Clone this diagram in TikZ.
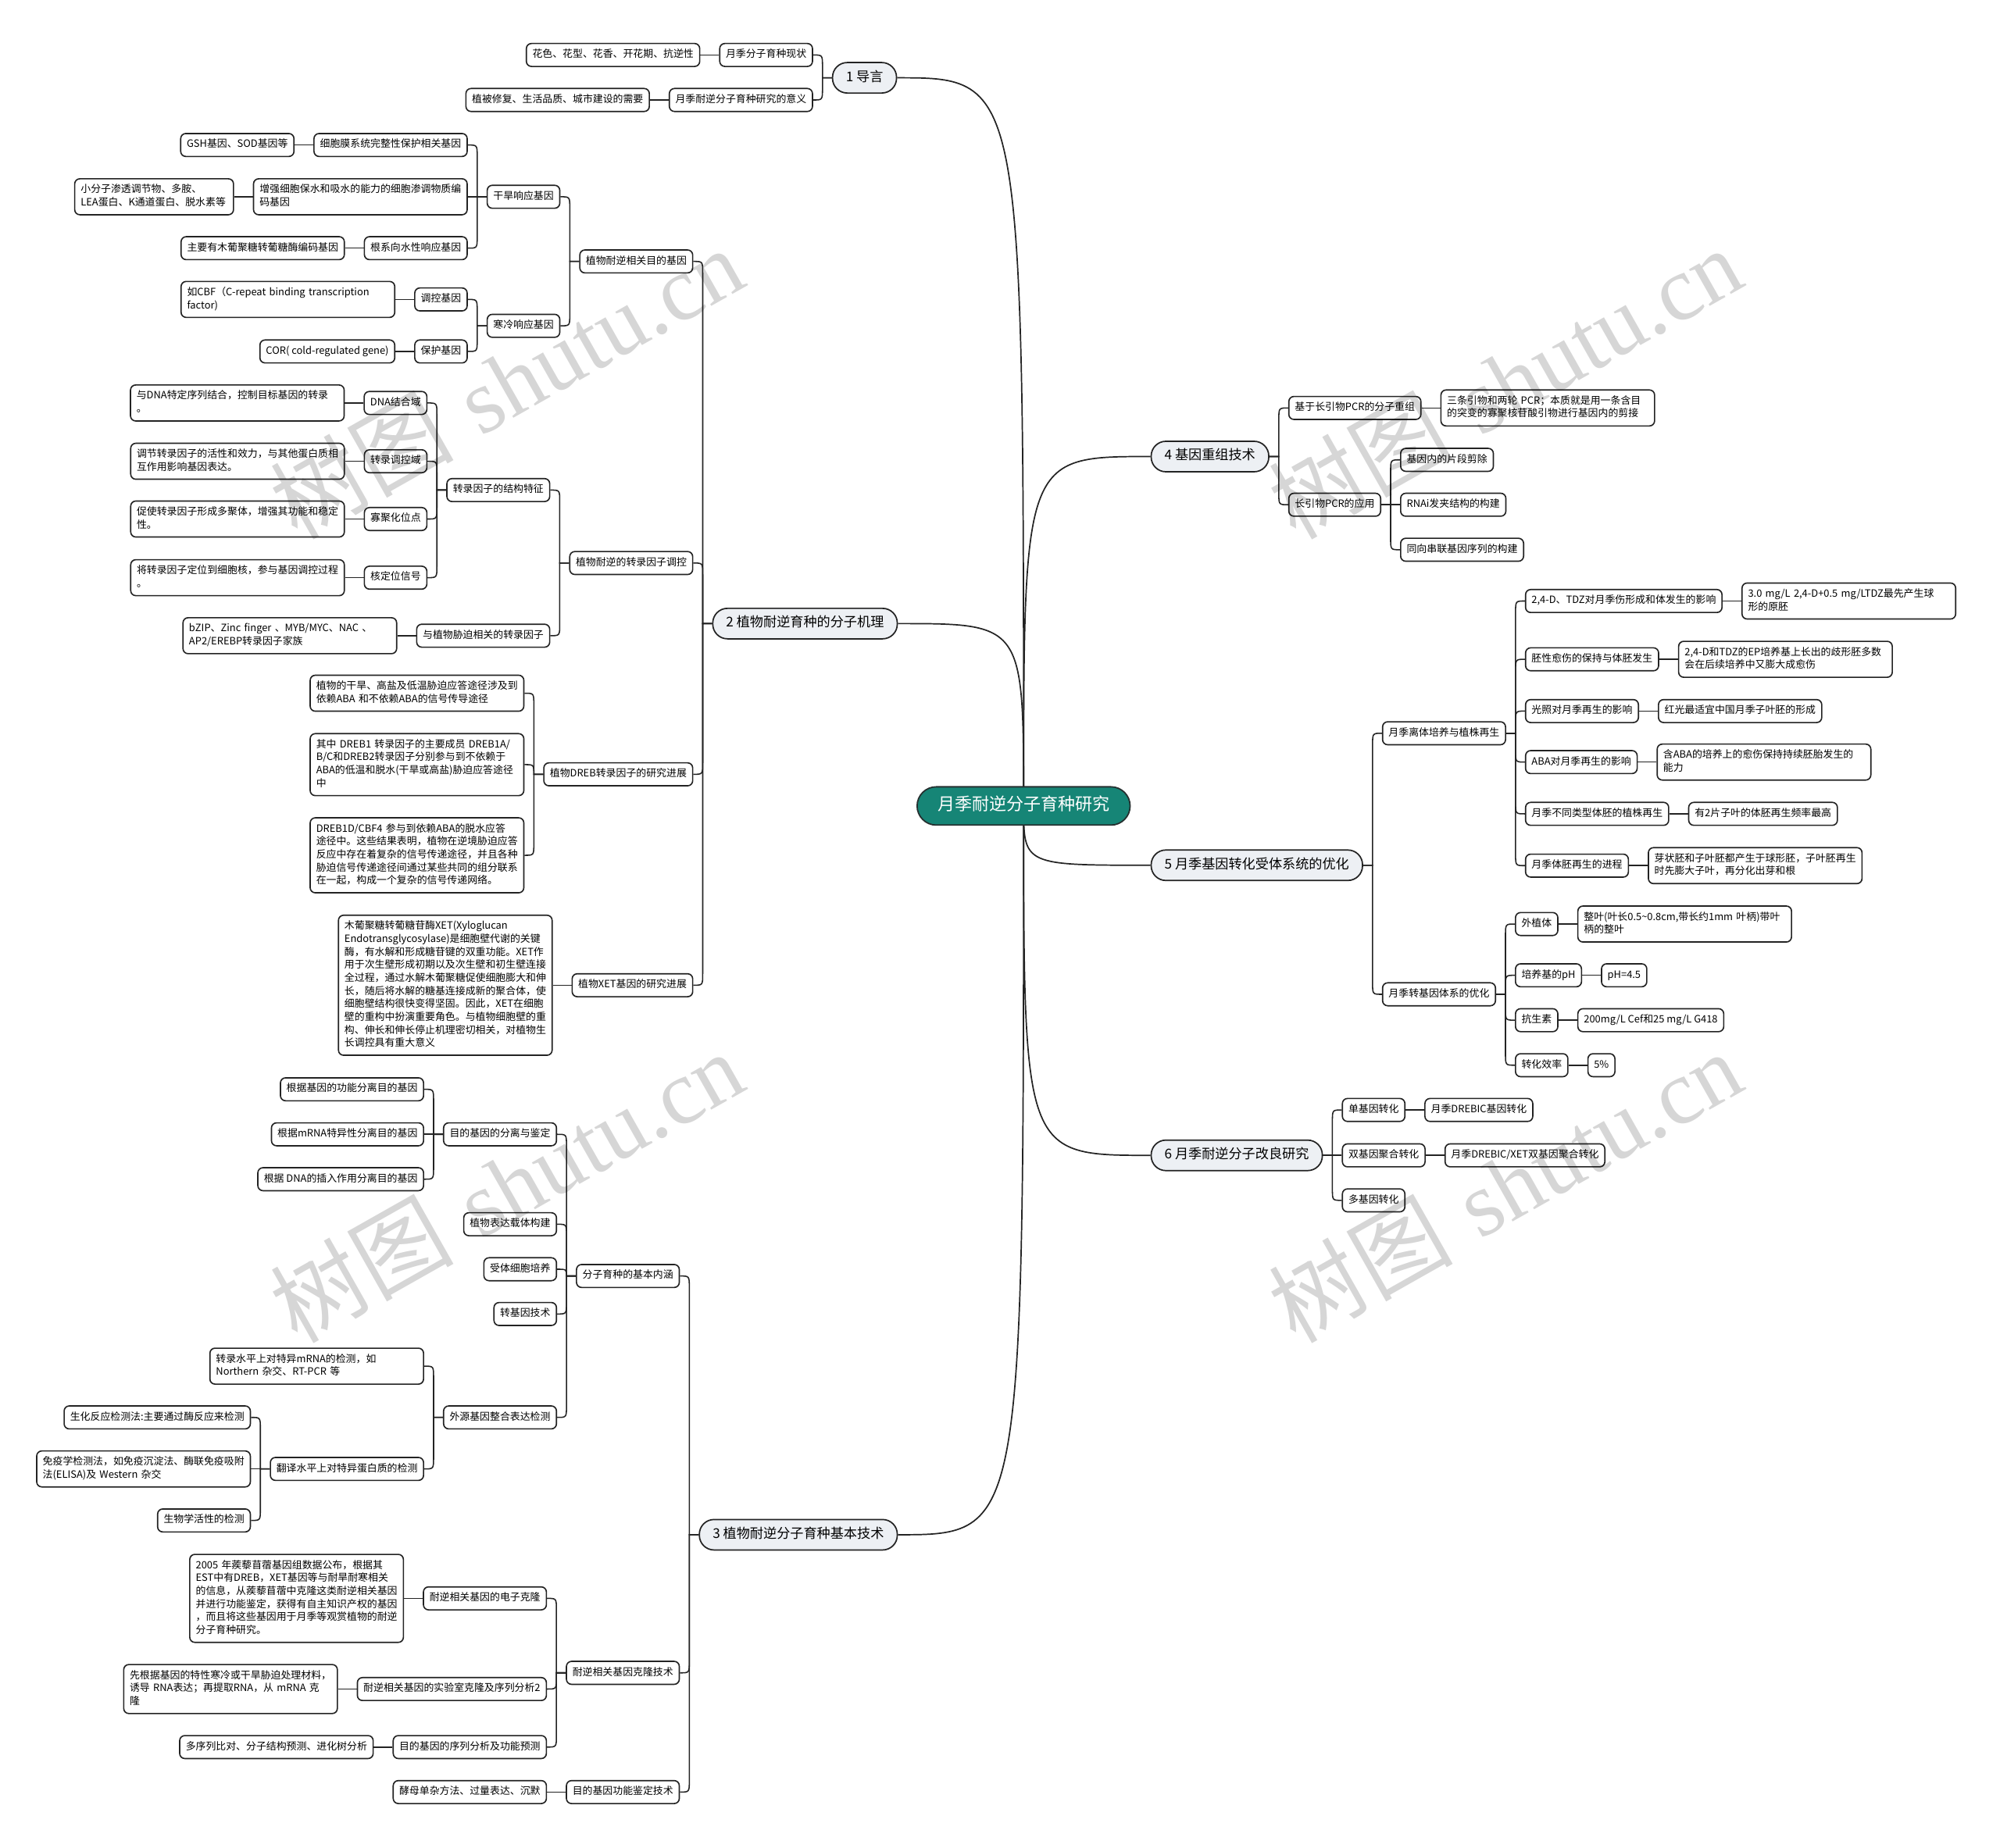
\documentclass[tikz,border=0pt]{standalone}
\usepackage{fontspec}
\setmainfont{Noto Sans CJK SC}
\newfontfamily\wmfont{Liberation Serif}
\usetikzlibrary{calc}
\pgfdeclarelayer{bg}
\pgfdeclarelayer{fg}
\pgfsetlayers{bg,main,fg}
\definecolor{rootc}{RGB}{22,133,118}
\definecolor{rootb}{RGB}{38,48,48}
\definecolor{linec}{RGB}{35,35,35}
\definecolor{mainfill}{RGB}{237,240,244}
\tikzset{
 bx/.style={draw=linec, line width=1pt, rounded corners=4pt, fill=white,
   font=\fontsize{7.9}{10.2}\selectfont, inner xsep=4.75pt, inner ysep=3.9pt,
   align=left, execute at begin node=\strut, execute at end node=\strut},
 wrap/.style={text width=158pt},
 mb/.style={draw=linec, line width=1.05pt, rounded corners=11.5pt, fill=mainfill,
   font=\fontsize{10.5}{13.5}\selectfont, inner xsep=10.5pt, inner ysep=5.2pt,
   execute at begin node=\strut},
 rootn/.style={draw=rootb, line width=1.1pt, rounded corners=15pt, fill=rootc,
   text=white, font=\fontsize{13.5}{17}\selectfont, inner xsep=16pt, inner ysep=6.5pt,
   execute at begin node=\strut},
 cn/.style={draw=linec, line width=0.95pt},
 mcn/.style={draw=linec, line width=1.05pt},
 wm/.style={rotate=29.5, font=\fontsize{72}{72}\selectfont, text=black, opacity=0.16,
   text opacity=0.16, inner sep=0pt},
}
\newcommand\nodeL[5][]{\node[bx,anchor=east,#1] (#2) at ($(#3.west |- 0,#4)+(-14.7,0)$) {#5};}
\newcommand\nodeR[5][]{\node[bx,anchor=west,#1] (#2) at ($(#3.east |- 0,#4)+(14.7,0)$) {#5};}
\newcommand\leafL[4][]{\node[bx,anchor=east,#1] (#2) at ($(#3.west)+(-14.7,0)$) {#4};}
\newcommand\leafR[4][]{\node[bx,anchor=west,#1] (#2) at ($(#3.east)+(14.7,0)$) {#4};}
\newcommand\conL[2]{\draw[cn] let \p1=(#1.west), \p2=(#2.east), \n1={(\x1+\x2)/2},
  \n2={ifthenelse(\y1>\y2,min(\y1-\y2,9pt),-min(\y2-\y1,9pt))}, \n3={\y2+(\n2)} in
  (\p2) .. controls (\n1,\y2) .. (\n1,\n3) -- (\n1,\y1) -- (\p1);}
\newcommand\conR[2]{\draw[cn] let \p1=(#1.east), \p2=(#2.west), \n1={(\x1+\x2)/2},
  \n2={ifthenelse(\y1>\y2,min(\y1-\y2,9pt),-min(\y2-\y1,9pt))}, \n3={\y2+(\n2)} in
  (\p2) .. controls (\n1,\y2) .. (\n1,\n3) -- (\n1,\y1) -- (\p1);}
\newcommand\linL[2]{\draw[cn] (#1.west) -- (#2.east);}
\newcommand\linR[2]{\draw[cn] (#1.east) -- (#2.west);}
\newcommand\mainL[1]{\draw[mcn] (root.center) .. controls (root.center |- #1.east) .. (#1.east);}
\newcommand\mainR[1]{\draw[mcn] (root.center) .. controls (root.center |- #1.west) .. (#1.west);}

\begin{document}
\begin{tikzpicture}[x=1pt,y=-1pt]
\useasboundingbox (0,0) rectangle (1568,1449);
\begin{pgfonlayer}{bg}
\fill[white] (0,0) rectangle (1568,1449);
\end{pgfonlayer}

% root and main branches
\node[rootn] (root) at (802.5,632) {月季耐逆分子育种研究};
\node[mb,anchor=east] (b1) at (703.4,61) {1 导言};
\node[mb,anchor=east] (b2) at (704,489) {2 植物耐逆育种的分子机理};
\node[mb,anchor=east] (b3) at (704,1203.5) {3 植物耐逆分子育种基本技术};
\node[mb,anchor=west] (b4) at (902,358) {4 基因重组技术};
\node[mb,anchor=west] (b5) at (902,678.5) {5 月季基因转化受体系统的优化};
\node[mb,anchor=west] (b6) at (902,906) {6 月季耐逆分子改良研究};

% section 1
\nodeL{n11}{b1}{43.1}{月季分子育种现状}
\leafL{n111}{n11}{花色、花型、花香、开花期、抗逆性}
\nodeL{n12}{b1}{78.4}{月季耐逆分子育种研究的意义}
\leafL{n121}{n12}{植被修复、生活品质、城市建设的需要}

% section 2
\nodeL{n21}{b2}{205}{植物耐逆相关目的基因}
\nodeL{n211}{n21}{154.3}{干旱响应基因}
\nodeL{n2111}{n211}{113.7}{细胞膜系统完整性保护相关基因}
\leafL{l2111}{n2111}{GSH基因、SOD基因等}
\nodeL[wrap]{n2112}{n211}{154.3}{增强细胞保水和吸水的能力的细胞渗调物质编\\码基因}
\leafL[text width=115pt]{l2112}{n2112}{小分子渗透调节物、多胺、\\LEA蛋白、K通道蛋白、脱水素等}
\nodeL{n2113}{n211}{194.6}{根系向水性响应基因}
\leafL{l2113}{n2113}{主要有木葡聚糖转葡糖酶编码基因}
\nodeL{n212}{n21}{255.5}{寒冷响应基因}
\nodeL{n2121}{n212}{234.8}{调控基因}
\leafL[wrap]{l2121}{n2121}{如CBF（C-repeat binding transcription\\factor)}
\nodeL{n2122}{n212}{275.6}{保护基因}
\leafL{l2122}{n2122}{COR( cold-regulated gene)}

\nodeL{n22}{b2}{441.5}{植物耐逆的转录因子调控}
\nodeL{n221}{n22}{384.3}{转录因子的结构特征}
\nodeL{n2211}{n221}{316}{DNA结合域}
\leafL[wrap]{l2211}{n2211}{与DNA特定序列结合，控制目标基因的转录\\。}
\nodeL{n2212}{n221}{361.7}{转录调控域}
\leafL[wrap]{l2212}{n2212}{调节转录因子的活性和效力，与其他蛋白质相\\互作用影响基因表达。}
\nodeL{n2213}{n221}{407}{寡聚化位点}
\leafL[wrap]{l2213}{n2213}{促使转录因子形成多聚体，增强其功能和稳定\\性。}
\nodeL{n2214}{n221}{453}{核定位信号}
\leafL[wrap]{l2214}{n2214}{将转录因子定位到细胞核，参与基因调控过程\\。}
\nodeL{n222}{n22}{498.5}{与植物胁迫相关的转录因子}
\leafL[wrap]{l222}{n222}{bZIP、Zinc finger 、MYB/MYC、NAC 、\\AP2/EREBP转录因子家族}

\nodeL{n23}{b2}{607.2}{植物DREB转录因子的研究进展}
\nodeL[wrap]{n231}{n23}{543.6}{植物的干旱、高盐及低温胁迫应答途径涉及到\\依赖ABA 和不依赖ABA的信号传导途径}
\nodeL[wrap]{n232}{n23}{599.6}{其中 DREB1 转录因子的主要成员 DREB1A/\\B/C和DREB2转录因子分别参与到不依赖于\\ABA的低温和脱水(干旱或高盐)胁迫应答途径\\中}
\nodeL[wrap]{n233}{n23}{670.7}{DREB1D/CBF4 参与到依赖ABA的脱水应答\\途径中。这些结果表明，植物在逆境胁迫应答\\反应中存在着复杂的信号传递途径，并且各种\\胁迫信号传递途径间通过某些共同的组分联系\\在一起，构成一个复杂的信号传递网络。}
\nodeL{n24}{b2}{772.6}{植物XET基因的研究进展}
\leafL[wrap]{l24}{n24}{木葡聚糖转葡糖苷酶XET(Xyloglucan\\Endotransglycosylase)是细胞壁代谢的关键\\酶，有水解和形成糖苷键的双重功能。XET作\\用于次生壁形成初期以及次生壁和初生壁连接\\全过程，通过水解木葡聚糖促使细胞膨大和伸\\长，随后将水解的糖基连接成新的聚合体，使\\细胞壁结构很快变得坚固。因此，XET在细胞\\壁的重构中扮演重要角色。与植物细胞壁的重\\构、伸长和伸长停止机理密切相关，对植物生\\长调控具有重大意义}

% section 3
\nodeL{n31}{b3}{1000.6}{分子育种的基本内涵}
\nodeL{n311}{n31}{889.5}{目的基因的分离与鉴定}
\nodeL{n3111}{n311}{854.2}{根据基因的功能分离目的基因}
\nodeL{n3112}{n311}{889.5}{根据mRNA特异性分离目的基因}
\nodeL{n3113}{n311}{924.7}{根据 DNA的插入作用分离目的基因}
\nodeL{n312}{n31}{960}{植物表达载体构建}
\nodeL{n313}{n31}{995.3}{受体细胞培养}
\nodeL{n314}{n31}{1030.4}{转基因技术}
\nodeL{n315}{n31}{1111.5}{外源基因整合表达检测}
\nodeL[wrap]{n3151}{n315}{1071.3}{转录水平上对特异mRNA的检测，如\\Northern 杂交、RT-PCR 等}
\nodeL{n3152}{n315}{1151.9}{翻译水平上对特异蛋白质的检测}
\nodeL{n31521}{n3152}{1111.5}{生化反应检测法:主要通过酶反应来检测}
\nodeL[wrap]{n31522}{n3152}{1151.9}{免疫学检测法，如免疫沉淀法、酶联免疫吸附\\法(ELISA)及 Western 杂交}
\nodeL{n31523}{n3152}{1192.3}{生物学活性的检测}
\nodeL{n32}{b3}{1311.8}{耐逆相关基因克隆技术}
\nodeL{n321}{n32}{1253.4}{耐逆相关基因的电子克隆}
\leafL[wrap]{l321}{n321}{2005 年蒺藜苜蓿基因组数据公布，根据其\\EST中有DREB，XET基因等与耐旱耐寒相关\\的信息，从蒺藜苜蓿中克隆这类耐逆相关基因\\并进行功能鉴定，获得有自主知识产权的基因\\，而且将这些基因用于月季等观赏植物的耐逆\\分子育种研究。}
\nodeL{n322}{n32}{1324.5}{耐逆相关基因的实验室克隆及序列分析2}
\leafL[wrap]{l322}{n322}{先根据基因的特性寒冷或干旱胁迫处理材料，\\诱导 RNA表达；再提取RNA，从 mRNA 克\\隆}
\nodeL{n323}{n32}{1370}{目的基因的序列分析及功能预测}
\leafL{l323}{n323}{多序列比对、分子结构预测、进化树分析}
\nodeL{n33}{b3}{1405.3}{目的基因功能鉴定技术}
\leafL{l33}{n33}{酵母单杂方法、过量表达、沉默}

% section 4
\nodeR{n41}{b4}{319.9}{基于长引物PCR的分子重组}
\leafR[wrap]{l41}{n41}{三条引物和两轮 PCR；本质就是用一条含目\\的突变的寡聚核苷酸引物进行基因内的剪接}
\nodeR{n42}{b4}{395.8}{长引物PCR的应用}
\nodeR{n421}{n42}{360.6}{基因内的片段剪除}
\nodeR{n422}{n42}{395.8}{RNAi发夹结构的构建}
\nodeR{n423}{n42}{431.1}{同向串联基因序列的构建}

% section 5
\nodeR{n51}{b5}{575}{月季离体培养与植株再生}
\nodeR{n511}{n51}{471.3}{2,4-D、TDZ对月季伤形成和体发生的影响}
\leafR[wrap]{l511}{n511}{3.0 mg/L 2,4-D+0.5 mg/LTDZ最先产生球\\形的原胚}
\nodeR{n512}{n51}{517}{胚性愈伤的保持与体胚发生}
\leafR[wrap]{l512}{n512}{2,4-D和TDZ的EP培养基上长出的歧形胚多数\\会在后续培养中又膨大成愈伤}
\nodeR{n513}{n51}{557.6}{光照对月季再生的影响}
\leafR{l513}{n513}{红光最适宜中国月季子叶胚的形成}
\nodeR{n514}{n51}{597.6}{ABA对月季再生的影响}
\leafR[wrap]{l514}{n514}{含ABA的培养上的愈伤保持持续胚胎发生的\\能力}
\nodeR{n515}{n51}{638.2}{月季不同类型体胚的植株再生}
\leafR{l515}{n515}{有2片子叶的体胚再生频率最高}
\nodeR{n516}{n51}{678.8}{月季体胚再生的进程}
\leafR[wrap]{l516}{n516}{芽状胚和子叶胚都产生于球形胚，子叶胚再生\\时先膨大子叶，再分化出芽和根}
\nodeR{n52}{b5}{779.7}{月季转基因体系的优化}
\nodeR{n521}{n52}{724.6}{外植体}
\leafR[wrap]{l521}{n521}{整叶(叶长0.5\textasciitilde0.8cm,带长约1mm 叶柄)带叶\\柄的整叶}
\nodeR{n522}{n52}{764.8}{培养基的pH}
\leafR{l522}{n522}{pH=4.5}
\nodeR{n523}{n52}{800}{抗生素}
\leafR{l523}{n523}{200mg/L Cef和25 mg/L G418}
\nodeR{n524}{n52}{835.3}{转化效率}
\leafR{l524}{n524}{5\%}

% section 6
\nodeR{n61}{b6}{870.4}{单基因转化}
\leafR{l61}{n61}{月季DREBIC基因转化}
\nodeR{n62}{b6}{906}{双基因聚合转化}
\leafR{l62}{n62}{月季DREBIC/XET双基因聚合转化}
\nodeR{n63}{b6}{941.3}{多基因转化}

% connectors
\begin{pgfonlayer}{bg}
\mainL{b1}\mainL{b2}\mainL{b3}\mainR{b4}\mainR{b5}\mainR{b6}
\conL{b1}{n11}\conL{b1}{n12}\linL{n11}{n111}\linL{n12}{n121}
\conL{b2}{n21}\conL{b2}{n22}\conL{b2}{n23}\conL{b2}{n24}
\conL{n21}{n211}\conL{n21}{n212}
\conL{n211}{n2111}\conL{n211}{n2112}\conL{n211}{n2113}
\linL{n2111}{l2111}\linL{n2112}{l2112}\linL{n2113}{l2113}
\conL{n212}{n2121}\conL{n212}{n2122}\linL{n2121}{l2121}\linL{n2122}{l2122}
\conL{n22}{n221}\conL{n22}{n222}
\conL{n221}{n2211}\conL{n221}{n2212}\conL{n221}{n2213}\conL{n221}{n2214}
\linL{n2211}{l2211}\linL{n2212}{l2212}\linL{n2213}{l2213}\linL{n2214}{l2214}
\linL{n222}{l222}
\conL{n23}{n231}\conL{n23}{n232}\conL{n23}{n233}
\linL{n24}{l24}
\conL{b3}{n31}\conL{b3}{n32}\conL{b3}{n33}
\conL{n31}{n311}\conL{n31}{n312}\conL{n31}{n313}\conL{n31}{n314}\conL{n31}{n315}
\conL{n311}{n3111}\conL{n311}{n3112}\conL{n311}{n3113}
\conL{n315}{n3151}\conL{n315}{n3152}
\conL{n3152}{n31521}\conL{n3152}{n31522}\conL{n3152}{n31523}
\conL{n32}{n321}\conL{n32}{n322}\conL{n32}{n323}
\linL{n321}{l321}\linL{n322}{l322}\linL{n323}{l323}\linL{n33}{l33}
\conR{b4}{n41}\conR{b4}{n42}\linR{n41}{l41}
\conR{n42}{n421}\conR{n42}{n422}\conR{n42}{n423}
\conR{b5}{n51}\conR{b5}{n52}
\conR{n51}{n511}\conR{n51}{n512}\conR{n51}{n513}\conR{n51}{n514}\conR{n51}{n515}\conR{n51}{n516}
\linR{n511}{l511}\linR{n512}{l512}\linR{n513}{l513}\linR{n514}{l514}\linR{n515}{l515}\linR{n516}{l516}
\conR{n52}{n521}\conR{n52}{n522}\conR{n52}{n523}\conR{n52}{n524}
\linR{n521}{l521}\linR{n522}{l522}\linR{n523}{l523}\linR{n524}{l524}
\conR{b6}{n61}\conR{b6}{n62}\conR{b6}{n63}
\linR{n61}{l61}\linR{n62}{l62}
\end{pgfonlayer}

% watermarks
\begin{pgfonlayer}{fg}
\node[wm] (wm1) at (397,300) {树图\hspace{.3em}{\wmfont shutu.cn}};
\node[wm] (wm2) at (397,930) {树图\hspace{.3em}{\wmfont shutu.cn}};
\node[wm] (wm3) at (1180,300) {树图\hspace{.3em}{\wmfont shutu.cn}};
\node[wm] (wm4) at (1180,930) {树图\hspace{.3em}{\wmfont shutu.cn}};
\node[wm] (wm5) at (397,1560) {树图\hspace{.3em}{\wmfont shutu.cn}};
\node[wm] (wm6) at (1180,1560) {树图\hspace{.3em}{\wmfont shutu.cn}};
\end{pgfonlayer}
\end{tikzpicture}
\end{document}
